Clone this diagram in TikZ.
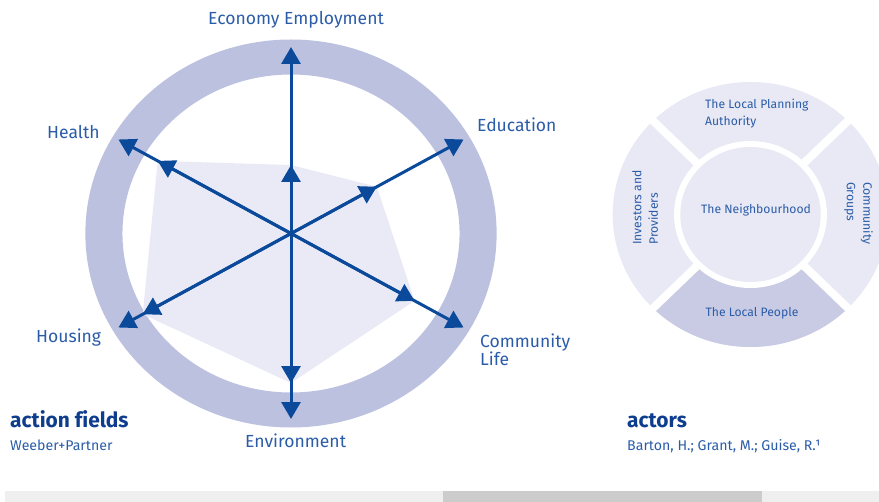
\documentclass[tikz,border=0pt]{standalone}
\usepackage{fontspec}
\setmainfont{Fira Sans}[Ligatures={TeX,NoCommon}]
\usetikzlibrary{arrows.meta}
\definecolor{ring}{HTML}{BCC1E0}
\definecolor{poly}{HTML}{E9EAF5}
\definecolor{arr}{HTML}{0B4A9B}
\definecolor{lab}{HTML}{2B5CA8}
\definecolor{ttl}{HTML}{0E3D8E}
\definecolor{seg}{HTML}{E8E9F4}
\definecolor{segd}{HTML}{C8CBE3}
\definecolor{barl}{HTML}{EFEFEF}
\definecolor{bard}{HTML}{CCCCCC}
\begin{document}
\begin{tikzpicture}[x=1bp,y=1bp,
  axis/.style={draw=arr, line width=3bp, -{Triangle[length=17bp,width=19bp]}},
  lbl/.style={font=\fontsize{17.6}{18}\selectfont, text=lab, inner sep=0pt},
  albl/.style={font=\fontsize{12.2}{16.5}\selectfont, text=lab, inner sep=0pt},
  ttlstyle/.style={font=\fontsize{21}{21}\selectfont\bfseries, text=ttl, inner sep=0pt, anchor=base west},
  srcstyle/.style={font=\fontsize{14.2}{14.2}\selectfont, text=lab, inner sep=0pt, anchor=base west}]
\useasboundingbox (0,0) rectangle (879,-502);
\clip (0,0) rectangle (879,-502);

% ---------- action fields ----------
\begin{scope}[shift={(291,-233.5)}, xscale=1.06]
  \fill[ring, even odd rule] (0,0) circle (194) (0,0) circle (159);
  \coordinate (c) at (0,0);
  \coordinate (dE) at (90:68.5);
  \coordinate (dEd) at (30:93.5);
  \coordinate (dC) at (-30:134.6);
  \coordinate (dEnv) at (-90:149.5);
  \coordinate (dHo) at (210:161.5);
  \coordinate (dHe) at (150:145.2);
  \coordinate (oE) at (90:186.5);
  \coordinate (oEd) at (30:188);
  \coordinate (oC) at (-30:188);
  \coordinate (oEnv) at (-90:185.5);
  \coordinate (oHo) at (210:188);
  \coordinate (oHe) at (150:188);
  \fill[poly] (dE) -- (dEd) -- (dC) -- (dEnv) -- (dHo) -- (dHe) -- cycle;
  \foreach \p in {E,Ed,C,Env,Ho,He}{
    \draw[axis] (c) -- (o\p);
    \draw[axis] (c) -- (d\p);
  }
\end{scope}

\node[lbl, anchor=base west] (tE) at (208,-25) {Economy Employment};
\node[lbl, anchor=base west] (tEd) at (477,-132) {Education};
\node[lbl, anchor=base west] (tHe) at (47,-139) {Health};
\node[lbl, anchor=base west] (tHo) at (36,-343) {Housing};
\node[lbl, anchor=north west, align=left] (tC) at (480,-334) {Community\\Life};
\node[lbl, anchor=base west] (tEnv) at (245,-447) {Environment};

\node[ttlstyle] (t1) at (10,-427) {action fields};
\node[srcstyle] (s1) at (10,-450) {Weeber+Partner};

% ---------- actors ----------
\begin{scope}[shift={(750.5,-214.5)}, xscale=1.04]
  \coordinate (ac) at (0,0);
  \fill[seg] (ac) circle (132.5);
  \fill[segd] (ac) -- (225:132.5) arc[start angle=225, end angle=315, radius=132.5] -- cycle;
  \draw[white, line width=8bp] (45:140) -- (225:140);
  \draw[white, line width=8bp] (135:140) -- (315:140);
  \fill[white] (ac) circle (73.5);
  \fill[seg] (ac) circle (67.5);
\end{scope}

\node[albl, anchor=north west, align=left] (aT) at (705,-99) {The Local Planning\\Authority};
\node[albl, anchor=base] (aN) at (756,-214) {The Neighbourhood};
\node[albl, anchor=base] (aB) at (752,-317) {The Local People};
\node[albl, anchor=north west, align=left, rotate=90] (aL) at (632,-245) {Investors and\\Providers};
\node[albl, anchor=north west, align=left, rotate=-90] (aR) at (873,-182) {Community\\Groups};

\node[ttlstyle] (t2) at (627,-427) {actors};
\node[srcstyle] (s2) at (627,-450) {Barton, H.; Grant, M.; Guise, R.¹};

% ---------- bottom bar ----------
\fill[barl] (5,-491) rectangle (879,-502);
\fill[bard] (443,-491) rectangle (762,-502);
\end{tikzpicture}
\end{document}
